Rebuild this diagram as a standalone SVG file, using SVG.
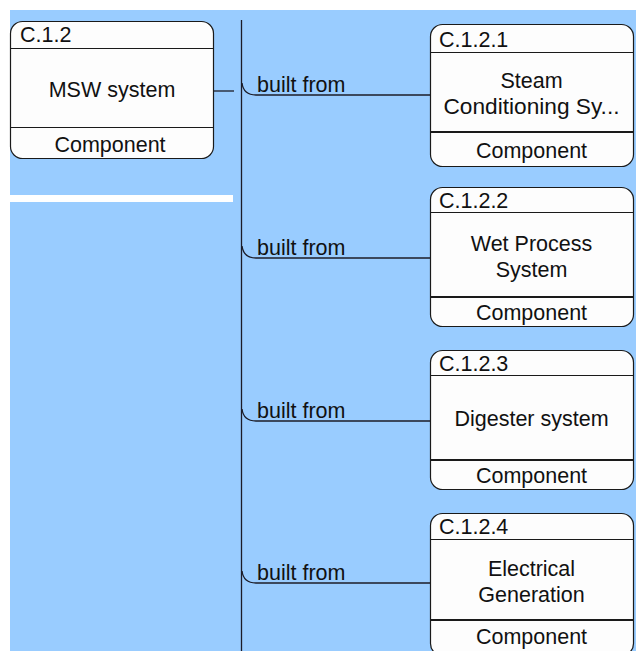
<svg xmlns="http://www.w3.org/2000/svg" width="636" height="651" viewBox="0 0 636 651">
  <style>
    .bg { fill: #99ccff; }
    .box { fill: #fdfdfd; stroke: #1a1a1a; stroke-width: 1.2; }
    .sep { stroke: #1a1a1a; stroke-width: 1.2; }
    .sep2 { stroke: #1a1a1a; stroke-width: 2; }
    .wire { fill: none; stroke: #1c1c28; stroke-width: 1.3; }
    text { font-family: "Liberation Sans", Arial, sans-serif; font-size: 21.5px; fill: #111; }
    .mid { text-anchor: middle; }
  </style>

  <!-- canvas -->
  <rect class="bg" x="10" y="10" width="626" height="641"/>
  <rect x="10" y="195" width="223" height="7" fill="#ffffff"/>

  <!-- connectors -->
  <g id="connectors">
    <path class="wire" d="M241.5,20 V651"/>
    <path class="wire" d="M214,91 H234"/>
    <path class="wire" d="M242,83 C243,91 247,95 256,95 H430"/>
    <path class="wire" d="M242,246 C243,254 247,258 256,258 H430"/>
    <path class="wire" d="M242,409 C243,417 247,421 256,421 H430"/>
    <path class="wire" d="M242,571 C243,579 247,583 256,583 H430"/>
    <text x="257" y="92">built from</text>
    <text x="257" y="255">built from</text>
    <text x="257" y="418">built from</text>
    <text x="257" y="580">built from</text>
  </g>

  <!-- parent component -->
  <g id="c-1-2">
    <rect class="box" x="10.5" y="21.5" width="203" height="137" rx="12"/>
    <line class="sep" x1="10.5" y1="48.5" x2="213.5" y2="48.5"/>
    <line class="sep" x1="10.5" y1="127.5" x2="213.5" y2="127.5"/>
    <text x="20" y="42">C.1.2</text>
    <text class="mid" x="112" y="97">MSW system</text>
    <text class="mid" x="110" y="152">Component</text>
  </g>

  <!-- child components -->
  <g id="c-1-2-1">
    <rect class="box" x="430.5" y="24.5" width="203" height="142" rx="12"/>
    <line class="sep" x1="430.5" y1="52.5" x2="633.5" y2="52.5"/>
    <line class="sep2" x1="430.5" y1="132" x2="633.5" y2="132"/>
    <text x="439" y="47">C.1.2.1</text>
    <text class="mid" x="531.5" y="88">Steam</text>
    <text class="mid" x="531.5" y="114" textLength="176" lengthAdjust="spacingAndGlyphs">Conditioning Sy...</text>
    <text class="mid" x="531.5" y="158">Component</text>
  </g>

  <g id="c-1-2-2">
    <rect class="box" x="430.5" y="187.5" width="203" height="139" rx="12"/>
    <line class="sep" x1="430.5" y1="212.5" x2="633.5" y2="212.5"/>
    <line class="sep2" x1="430.5" y1="297" x2="633.5" y2="297"/>
    <text x="439" y="208">C.1.2.2</text>
    <text class="mid" x="531.5" y="251">Wet Process</text>
    <text class="mid" x="531.5" y="277">System</text>
    <text class="mid" x="531.5" y="320">Component</text>
  </g>

  <g id="c-1-2-3">
    <rect class="box" x="430.5" y="350.5" width="203" height="139" rx="12"/>
    <line class="sep" x1="430.5" y1="375.5" x2="633.5" y2="375.5"/>
    <line class="sep2" x1="430.5" y1="460" x2="633.5" y2="460"/>
    <text x="439" y="371">C.1.2.3</text>
    <text class="mid" x="531.5" y="426">Digester system</text>
    <text class="mid" x="531.5" y="483">Component</text>
  </g>

  <g id="c-1-2-4">
    <rect class="box" x="430.5" y="513.5" width="203" height="142" rx="12"/>
    <line class="sep" x1="430.5" y1="539.5" x2="633.5" y2="539.5"/>
    <line class="sep2" x1="430.5" y1="620" x2="633.5" y2="620"/>
    <text x="439" y="534">C.1.2.4</text>
    <text class="mid" x="531.5" y="576">Electrical</text>
    <text class="mid" x="531.5" y="602">Generation</text>
    <text class="mid" x="531.5" y="644">Component</text>
  </g>
</svg>
